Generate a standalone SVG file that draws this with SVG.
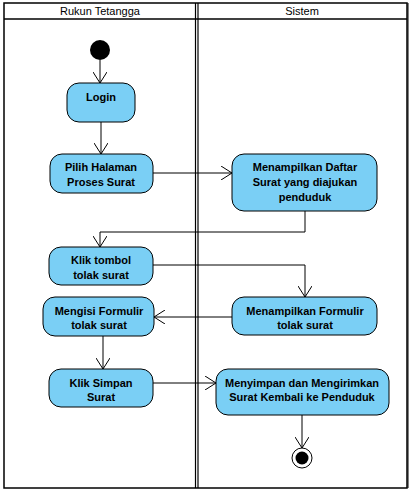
<svg xmlns="http://www.w3.org/2000/svg" width="413" height="495" viewBox="0 0 413 495">
<style>
.frame{fill:none;stroke:#000;stroke-width:1.5}
.node rect{fill:#7ACFF5;stroke:#000;stroke-width:1}
.node text{font-family:"Liberation Sans",Arial,sans-serif;font-size:11px;font-weight:bold;text-anchor:middle;fill:#000}
.hdr{font-family:"Liberation Sans",Arial,sans-serif;font-size:11px;text-anchor:middle;fill:#000}
.conn path{fill:none;stroke:#000;stroke-width:1;marker-end:url(#arr)}
</style>
<defs>
<marker id="arr" viewBox="0 0 12 14" refX="11" refY="7" markerWidth="12" markerHeight="14" markerUnits="userSpaceOnUse" orient="auto">
<path d="M0,0 L11,7 L0,14" fill="none" stroke="#000" stroke-width="1"/>
</marker>
</defs>
<rect x="0" y="0" width="413" height="495" fill="#fff"/>
<g id="lanes">
<rect class="frame" x="4" y="3" width="403" height="485"/>
<line x1="4" y1="19" x2="407" y2="19" stroke="#000" stroke-width="1.5"/>
<line x1="195.5" y1="3" x2="195.5" y2="488" stroke="#000" stroke-width="1.2"/>
<line x1="198" y1="3" x2="198" y2="488" stroke="#000" stroke-width="1.2"/>
<line x1="408" y1="3" x2="408" y2="488" stroke="#000" stroke-width="1"/>
<text class="hdr" x="100" y="15">Rukun Tetangga</text>
<text class="hdr" x="302" y="15">Sistem</text>
</g>
<g id="start"><circle cx="100" cy="50" r="10" fill="#000"/></g>
<g id="login" class="node"><rect x="67" y="83" width="68" height="39" rx="12"/><text x="101" y="101">Login</text></g>
<g id="pilih" class="node"><rect x="50" y="154" width="103" height="39" rx="12"/><text x="101" y="171">Pilih Halaman</text><text x="101" y="186">Proses Surat</text></g>
<g id="daftar" class="node"><rect x="232" y="154" width="145" height="57" rx="12"/><text x="305" y="171">Menampilkan Daftar</text><text x="305" y="186">Surat yang diajukan</text><text x="305" y="201">penduduk</text></g>
<g id="klik" class="node"><rect x="49" y="247" width="104" height="38" rx="12"/><text x="101" y="264">Klik tombol</text><text x="101" y="279">tolak surat</text></g>
<g id="formulir" class="node"><rect x="232" y="297" width="145" height="38" rx="12"/><text x="305" y="315">Menampilkan Formulir</text><text x="305" y="329">tolak surat</text></g>
<g id="mengisi" class="node"><rect x="43" y="297" width="111" height="39" rx="12"/><text x="99" y="315">Mengisi Formulir</text><text x="99" y="329">tolak surat</text></g>
<g id="simpan" class="node"><rect x="49" y="369" width="104" height="38" rx="12"/><text x="101" y="387">Klik Simpan</text><text x="101" y="401">Surat</text></g>
<g id="menyimpan" class="node"><rect x="216" y="369" width="173" height="46" rx="12"/><text x="302" y="387">Menyimpan dan Mengirimkan</text><text x="302" y="401">Surat Kembali ke Penduduk</text></g>
<g id="end"><circle cx="302" cy="458" r="10" fill="#fff" stroke="#000" stroke-width="1"/><circle cx="302" cy="458" r="6.5" fill="#000"/></g>
<g id="connectors" class="conn">
<path d="M100,60 L100,83"/>
<path d="M101,122 L101,154"/>
<path d="M153,173 L232,173"/>
<path d="M305,211 L305,232 L100,232 L100,247"/>
<path d="M153,265 L305,265 L305,297"/>
<path d="M232,317 L154,317"/>
<path d="M103,336 L103,369"/>
<path d="M153,383 L216,383"/>
<path d="M302,415 L302,448"/>
</g>
</svg>
